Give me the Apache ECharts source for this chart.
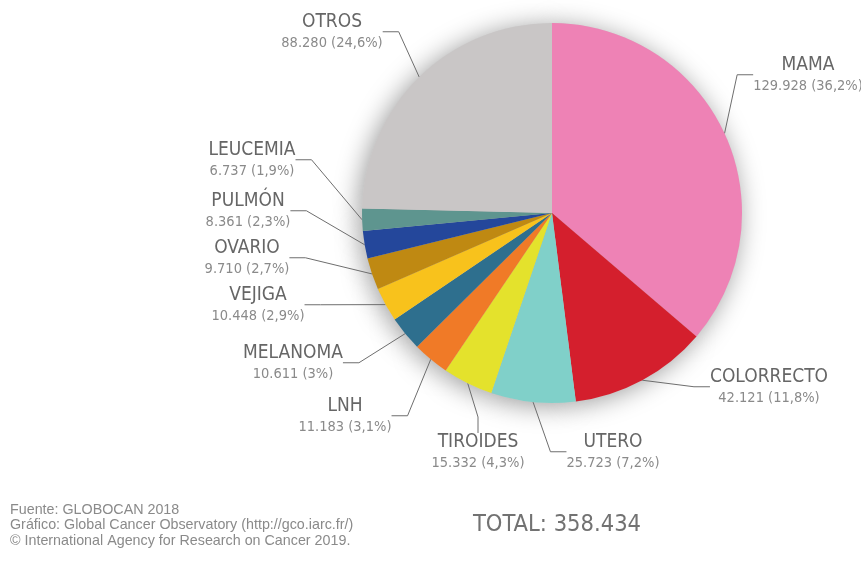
<!DOCTYPE html>
<html>
<head>
<meta charset="utf-8">
<script src="https://cdn.jsdelivr.net/npm/echarts@6/dist/echarts.min.js"></script>
<style>
  html, body { margin: 0; padding: 0; background: #ffffff; }
  #chart { width: 861px; height: 561px; }
</style>
</head>
<body>
<div id="chart"></div>
<script>
// New cancer cases in women, 2018 (GLOBOCAN)
const categories = ['MAMA', 'COLORRECTO', 'UTERO', 'TIROIDES', 'LNH', 'MELANOMA', 'VEJIGA', 'OVARIO', 'PULMÓN', 'LEUCEMIA', 'OTROS'];
const cases = [129928, 42121, 25723, 15332, 11183, 10611, 10448, 9710, 8361, 6737, 88280];
const percents = ['36,2%', '11,8%', '7,2%', '4,3%', '3,1%', '3%', '2,9%', '2,7%', '2,3%', '1,9%', '24,6%'];
const totalCases = 358434;
const sourceLines = [
  'Fuente: GLOBOCAN 2018',
  'Gráfico: Global Cancer Observatory (http://gco.iarc.fr/)',
  '© International Agency for Research on Cancer 2019.'
];

const sliceColors = ['#ee82b5', '#d41f2d', '#80d0c9', '#e4e22c', '#f07a27', '#2e6f8e',
                     '#f8c21c', '#bf8912', '#24479b', '#5e958f', '#c9c6c6'];
// Centre of each two-line label block
const labelSpots = [[808, 75], [769, 387], [613, 452], [478, 452], [345, 416], [293, 363],
                    [258, 305], [247, 258], [248, 211], [252, 160], [332, 32]];

const condensed = '"DejaVu Sans Condensed", "Liberation Sans Narrow", sans-serif';

function thousands(n) {
  return String(n).replace(/\B(?=(\d{3})+(?!\d))/g, '.');
}

const pieData = categories.map((name, i) => ({
  name: name,
  value: cases[i],
  itemStyle: { color: sliceColors[i] }
}));

const chart = echarts.init(document.getElementById('chart'), null, { renderer: 'canvas' });

chart.setOption({
  animation: false,
  backgroundColor: '#ffffff',
  graphic: [
    {
      type: 'text',
      x: 10,
      y: 502,
      style: {
        text: sourceLines.join('\n'),
        font: '14.3px "Liberation Sans", sans-serif',
        lineHeight: 15.5,
        fill: '#8a8a8a'
      }
    },
    {
      type: 'text',
      x: 557,
      y: 525,
      style: {
        text: 'TOTAL: ' + thousands(totalCases),
        font: '23.5px ' + condensed,
        fill: '#727272',
        align: 'center',
        verticalAlign: 'middle'
      }
    }
  ],
  series: [
    {
      // soft halo under the pie
      type: 'pie',
      center: [552, 213],
      radius: [0, 190],
      startAngle: 90,
      clockwise: true,
      silent: true,
      z: 1,
      label: { show: false },
      labelLine: { show: false },
      itemStyle: {
        color: '#cfcfcf',
        shadowBlur: 26,
        shadowColor: 'rgba(0,0,0,0.4)',
        shadowOffsetX: -3,
        shadowOffsetY: 3
      },
      data: cases.map(v => ({ value: v }))
    },
    {
      type: 'pie',
      center: [552, 213],
      radius: [0, 190],
      startAngle: 90,
      clockwise: true,
      z: 2,
      data: pieData,
      label: {
        show: true,
        position: 'outside',
        overflow: 'none',
        edgeDistance: 0,
        bleedMargin: 0,
        formatter: p => '{n|' + p.name + '}\n{v|' + thousands(p.value) + ' (' + percents[p.dataIndex] + ')}',
        rich: {
          n: { fontFamily: condensed, fontSize: 19, color: '#666666', lineHeight: 22, align: 'center' },
          v: { fontFamily: condensed, fontSize: 14.5, color: '#8a8a8a', lineHeight: 19, align: 'center' }
        }
      },
      labelLine: {
        show: true,
        length: 12,
        length2: 16,
        lineStyle: { color: '#6e6e6e', width: 1 }
      },
      labelLayout: p => ({
        x: labelSpots[p.dataIndex][0],
        y: labelSpots[p.dataIndex][1],
        align: 'center',
        verticalAlign: 'middle',
        width: 160
      })
    }
  ]
});
</script>
</body>
</html>
